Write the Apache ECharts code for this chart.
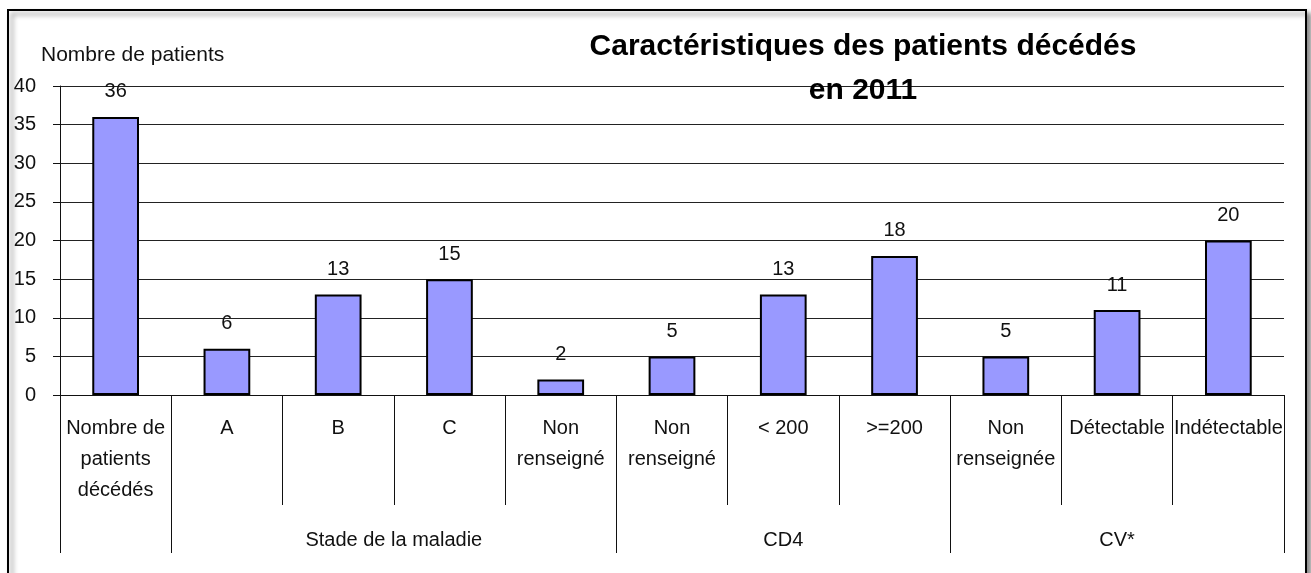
<!DOCTYPE html>
<html>
<head>
<meta charset="utf-8">
<script src="https://cdn.jsdelivr.net/npm/echarts@6/dist/echarts.min.js"></script>
<style>
  html, body { margin: 0; padding: 0; background: #fff; }
  #chart { width: 1311px; height: 573px; }
</style>
</head>
<body>
<div id="chart"></div>
<script>
// Categories shown under each bar (first level of the category axis)
const categories = [
  'Nombre de\npatients\ndécédés',
  'A', 'B', 'C', 'Non\nrenseigné',
  'Non\nrenseigné', '< 200', '>=200',
  'Non\nrenseignée', 'Détectable', 'Indétectable'
];
// Number of deceased patients per category
const patients = [36, 6, 13, 15, 2, 5, 13, 18, 5, 11, 20];
// Second level of the category axis: label, first and last category index
const groupLabels = ['', 'Stade de la maladie', 'CD4', 'CV*'];
const groupStart = [0, 1, 5, 8];
const groupEnd = [0, 4, 7, 10];
// Y axis ticks
const yMin = 0, yMax = 40, yStep = 5;

const FONT = '"Liberation Sans", Arial, sans-serif';
const chart = echarts.init(document.getElementById('chart'), null, { renderer: 'canvas' });

const grid = { left: 60, right: 27, top: 86, bottom: 178 };

chart.setOption({
  animation: false,
  backgroundColor: '#fff',
  title: {
    text: 'Caractéristiques des patients décédés\nen 2011',
    left: 858,
    top: 20,
    textAlign: 'center',
    textStyle: { fontFamily: FONT, fontSize: 30, fontWeight: 'bold', color: '#000', lineHeight: 44 }
  },
  grid: grid,
  xAxis: {
    type: 'category',
    data: categories,
    boundaryGap: true,
    axisLine: { lineStyle: { color: '#111', width: 1 } },
    axisTick: { show: true, length: 110, lineStyle: { color: '#111', width: 1 } },
    axisLabel: {
      interval: 0, margin: 18, fontFamily: FONT, fontSize: 20, color: '#111', lineHeight: 31
    },
    splitLine: { show: false }
  },
  yAxis: {
    type: 'value',
    min: yMin, max: yMax, interval: yStep,
    name: 'Nombre de patients',
    nameLocation: 'end',
    nameGap: 20,
    nameTextStyle: { fontFamily: FONT, fontSize: 21, color: '#111', align: 'left', padding: [0, 0, 0, -19] },
    axisLine: { show: true, lineStyle: { color: '#111', width: 1 } },
    axisTick: { show: true, length: 7, inside: false, lineStyle: { color: '#111', width: 1 } },
    axisLabel: { fontFamily: FONT, fontSize: 20, color: '#111', margin: 24 },
    splitLine: { show: true, lineStyle: { color: '#222', width: 1 } }
  },
  series: [{
    type: 'bar',
    data: patients,
    barWidth: '42%',
    itemStyle: { color: '#9999FF', borderColor: '#000', borderWidth: 2 },
    label: {
      show: true, position: 'top', distance: 15,
      fontFamily: FONT, fontSize: 20, color: '#111'
    }
  }]
});

// Outer frame, group separators and group labels placed from the axis scale
function drawDecorations() {
  const c0 = chart.convertToPixel({ xAxisIndex: 0 }, 0);
  const c1 = chart.convertToPixel({ xAxisIndex: 0 }, 1);
  const band = c1 - c0;
  const edge = i => c0 + (i - 0.5) * band;
  const axisY = chart.convertToPixel({ yAxisIndex: 0 }, yMin);
  const lineBottom = axisY + 158;

  const elements = [{
    type: 'rect',
    z: -10,
    silent: true,
    shape: { x: 8, y: 10, width: 1298, height: 620 },
    style: {
      fill: '#fff', stroke: '#000', lineWidth: 2,
      shadowColor: 'rgba(0,0,0,0.45)', shadowBlur: 5, shadowOffsetX: 4, shadowOffsetY: 4
    }
  }];

  const boundaries = new Set();
  groupStart.forEach((s, g) => {
    boundaries.add(s);
    boundaries.add(groupEnd[g] + 1);
    if (groupLabels[g]) {
      elements.push({
        type: 'text',
        silent: true,
        style: {
          text: groupLabels[g],
          x: (edge(s) + edge(groupEnd[g] + 1)) / 2,
          y: axisY + 145,
          align: 'center', verticalAlign: 'middle',
          font: '20px ' + FONT, fill: '#111'
        }
      });
    }
  });
  boundaries.forEach(i => {
    const x = Math.round(edge(i)) + 0.5;
    elements.push({
      type: 'line',
      silent: true,
      shape: { x1: x, y1: axisY, x2: x, y2: lineBottom },
      style: { stroke: '#111', lineWidth: 1 }
    });
  });

  chart.setOption({ graphic: elements });
}
drawDecorations();
</script>
</body>
</html>
